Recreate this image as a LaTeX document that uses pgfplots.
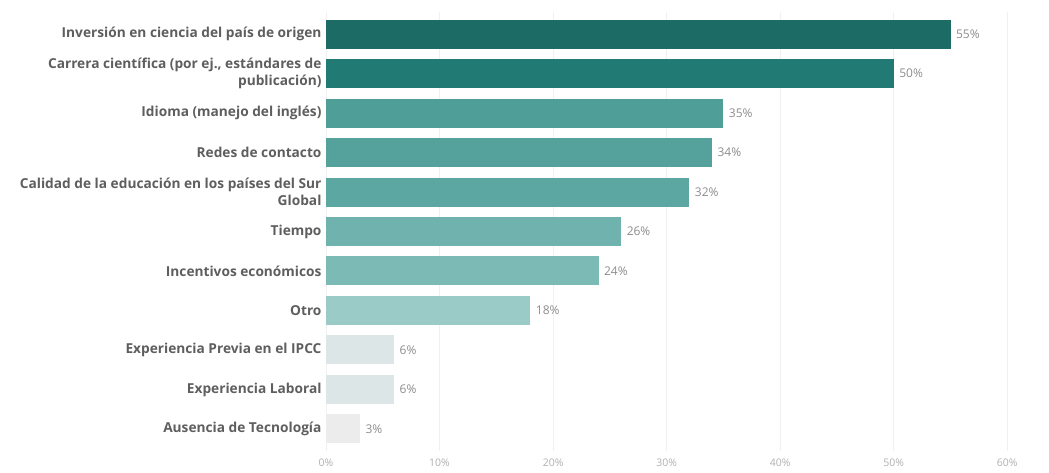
\documentclass[border=0pt]{standalone}
\usepackage{pgfplots}
\pgfplotsset{compat=1.18}
\usepackage{fontspec}
\setmainfont{Open Sans}
\definecolor{c1}{HTML}{1C6B64}
\definecolor{c2}{HTML}{217A74}
\definecolor{c3}{HTML}{4F9E98}
\definecolor{c4}{HTML}{55A29C}
\definecolor{c5}{HTML}{5CA7A1}
\definecolor{c6}{HTML}{70B3AE}
\definecolor{c7}{HTML}{7BBAB5}
\definecolor{c8}{HTML}{9ACBC7}
\definecolor{c9}{HTML}{DCE6E6}
\definecolor{c10}{HTML}{DCE6E6}
\definecolor{c11}{HTML}{ECECEC}
\definecolor{labgray}{HTML}{5E5E5E}
\definecolor{valgray}{HTML}{8C8C8C}
\definecolor{tickgray}{HTML}{B0B0B0}
\definecolor{gridgray}{HTML}{F0F0F0}
\begin{document}
\begin{tikzpicture}[x=1pt,y=1pt]
\useasboundingbox (-326,-21.3) rectangle (723,450.7);
\begin{axis}[
  at={(0,0)}, anchor=south west,
  scale only axis, width=704pt, height=438.4pt,
  xbar, bar width=29pt, bar shift=0pt,
  xmin=0, xmax=62, ymin=-0.55, ymax=10.55,
  xtick={0,10,...,60},
  xticklabel={\pgfmathprintnumber{\tick}\%},
  /pgf/number format/assume math mode=true,
  xticklabel style={font=\fontsize{10.5}{12}\selectfont, text=tickgray, yshift=-5pt},
  ytick={0,...,10},
  yticklabels={Ausencia de Tecnología, Experiencia Laboral, Experiencia Previa en el IPCC, Otro, Incentivos económicos, Tiempo, {Calidad de la educación en los países del Sur\\Global}, Redes de contacto, Idioma (manejo del inglés), {Carrera científica (por ej., estándares de\\publicación)}, Inversión en ciencia del país de origen},
  yticklabel style={align=right, font=\bfseries\fontsize{13.7}{16.5}\selectfont, text=labgray, xshift=-1pt},
  axis line style={draw=none},
  major tick length=0pt,
  xmajorgrids, grid style={gridgray, line width=0.8pt},
  point meta=x,
  nodes near coords={\pgfmathprintnumber{\pgfplotspointmeta}\%},
  nodes near coords style={font=\fontsize{12}{14}\selectfont, text=valgray, anchor=west, xshift=2pt},
]
\addplot[fill=c1, draw=none] coordinates {(55,10)};
\addplot[fill=c2, draw=none] coordinates {(50,9)};
\addplot[fill=c3, draw=none] coordinates {(35,8)};
\addplot[fill=c4, draw=none] coordinates {(34,7)};
\addplot[fill=c5, draw=none] coordinates {(32,6)};
\addplot[fill=c6, draw=none] coordinates {(26,5)};
\addplot[fill=c7, draw=none] coordinates {(24,4)};
\addplot[fill=c8, draw=none] coordinates {(18,3)};
\addplot[fill=c9, draw=none] coordinates {(6,2)};
\addplot[fill=c10, draw=none] coordinates {(6,1)};
\addplot[fill=c11, draw=none] coordinates {(3,0)};
\end{axis}
\end{tikzpicture}
\end{document}
